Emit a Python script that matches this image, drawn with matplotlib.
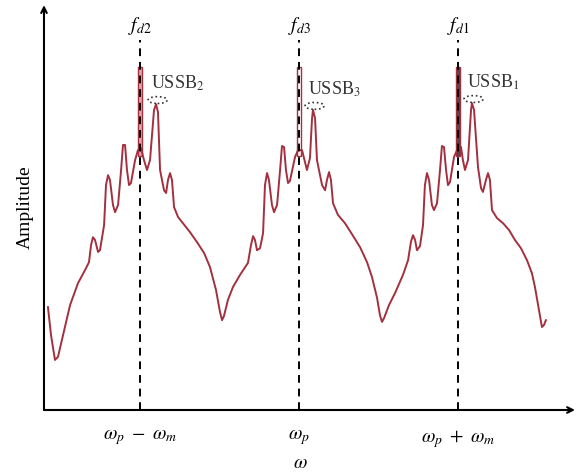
import matplotlib.pyplot as plt
from matplotlib.patches import Ellipse
import numpy as np

plt.rcParams['font.family'] = ['Liberation Serif', 'DejaVu Serif']
plt.rcParams['mathtext.fontset'] = 'stix'

# frequency offset from omega_p, in units of omega_m
omega = [-1.579, -1.560, -1.535, -1.516, -1.484, -1.440, -1.390, -1.346, -1.321,
         -1.308, -1.296, -1.283, -1.264, -1.252, -1.226, -1.214, -1.201, -1.189,
         -1.170, -1.157, -1.138, -1.119, -1.107, -1.094, -1.082, -1.069, -1.057,
         -1.031, -1.013, -0.994, -0.975, -0.956, -0.937, -0.912, -0.899, -0.887,
         -0.874, -0.849, -0.836, -0.824, -0.811, -0.799, -0.786, -0.761, -0.730,
         -0.686, -0.642, -0.597, -0.560, -0.522, -0.497, -0.484, -0.472, -0.447,
         -0.415, -0.371, -0.321, -0.302, -0.289, -0.277, -0.264, -0.245, -0.226,
         -0.214, -0.201, -0.189, -0.170, -0.157, -0.138, -0.119, -0.107, -0.094,
         -0.082, -0.069, -0.057, -0.025, -0.006, 0.019, 0.038, 0.050, 0.069,
         0.082, 0.088, 0.101, 0.113, 0.145, 0.164, 0.176, 0.189, 0.201, 0.214,
         0.245, 0.289, 0.333, 0.384, 0.428, 0.459, 0.491, 0.509, 0.522, 0.535,
         0.566, 0.604, 0.654, 0.686, 0.704, 0.717, 0.730, 0.742, 0.761, 0.780,
         0.792, 0.805, 0.818, 0.836, 0.849, 0.868, 0.887, 0.899, 0.912, 0.925,
         0.937, 0.950, 0.975, 0.994, 1.019, 1.031, 1.044, 1.063, 1.082, 1.088,
         1.101, 1.126, 1.145, 1.157, 1.176, 1.189, 1.201, 1.214, 1.245, 1.283,
         1.321, 1.358, 1.396, 1.434, 1.465, 1.484, 1.509, 1.528, 1.541, 1.553]
amplitude = [0.300, 0.219, 0.146, 0.155, 0.219, 0.306, 0.370, 0.408, 0.431,
             0.481, 0.504, 0.496, 0.461, 0.466, 0.539, 0.656, 0.685, 0.671,
             0.598, 0.577, 0.598, 0.700, 0.773, 0.773, 0.700, 0.656, 0.662,
             0.729, 0.758, 0.764, 0.729, 0.700, 0.729, 0.875, 0.892, 0.869,
             0.700, 0.641, 0.633, 0.671, 0.691, 0.671, 0.592, 0.563, 0.545,
             0.519, 0.490, 0.458, 0.417, 0.350, 0.286, 0.262, 0.274, 0.321,
             0.359, 0.394, 0.429, 0.481, 0.507, 0.496, 0.466, 0.472, 0.516,
             0.656, 0.691, 0.671, 0.598, 0.577, 0.598, 0.700, 0.770, 0.767,
             0.700, 0.662, 0.668, 0.738, 0.758, 0.758, 0.723, 0.700, 0.735,
             0.851, 0.875, 0.851, 0.729, 0.656, 0.641, 0.671, 0.694, 0.671, 0.603,
             0.569, 0.545, 0.513, 0.475, 0.431, 0.388, 0.327, 0.277, 0.257, 0.268,
             0.306, 0.341, 0.394, 0.437, 0.490, 0.510, 0.496, 0.466, 0.478, 0.539,
             0.656, 0.691, 0.671, 0.598, 0.583, 0.603, 0.700, 0.770, 0.767, 0.700,
             0.656, 0.665, 0.738, 0.758, 0.767, 0.729, 0.700, 0.729, 0.875, 0.895,
             0.875, 0.708, 0.647, 0.636, 0.671, 0.691, 0.671, 0.583, 0.560, 0.545,
             0.525, 0.496, 0.472, 0.437, 0.399, 0.359, 0.292, 0.242, 0.248, 0.262]

# drive frequencies (narrow spikes on top of the spectrum)
fd_pos = [-1.0, 0.0, 1.0]
fd_base = [0.74, 0.74, 0.74]
fd_top = [1.0, 1.0, 1.0]
fd_labels = ['$f_{d2}$', '$f_{d3}$', '$f_{d1}$']
fd_fill = ['#eaa6b0', 'white', '#4a4a4a']

# upper side band labels
ussb_labels = ['USSB$_2$', 'USSB$_3$', 'USSB$_1$']
ussb_x = [-0.899, 0.088, 1.088]
ussb_y = [0.892, 0.875, 0.895]

tick_pos = [-1, 0, 1]
tick_labels = [r'$\omega_p\ -\ \omega_m$', r'$\omega_p$', r'$\omega_p\ +\ \omega_m$']

line_col = '#a3303f'

fig = plt.figure(figsize=(5.78, 4.73), dpi=100)
ax = fig.add_axes([0.0761, 0.1332, 0.9187, 0.856])

ax.bar(fd_pos, np.subtract(fd_top, fd_base), bottom=fd_base, width=0.025,
       color=fd_fill, edgecolor=line_col, linewidth=1.0, zorder=2)
ax.plot(omega, amplitude, color=line_col, lw=1.4, zorder=3)

for x, lab in zip(fd_pos, fd_labels):
    ax.plot([x, x], [0, 1.08], color='black', lw=1.4, ls=(0, (4, 3)), zorder=4)
    ax.text(x, 1.12, lab, ha='center', va='center', fontsize=14)

for x, y, lab in zip(ussb_x, ussb_y, ussb_labels):
    ax.text(x - 0.03, y + 0.06, lab, ha='left', va='center', fontsize=13,
            color='#333333')
    ax.add_patch(Ellipse((x + 0.01, y + 0.012), 0.12, 0.02, fill=False,
                         ls=':', lw=1.2, color='#333333', zorder=5))

ax.set_xlim(-1.604, 1.736)
ax.set_ylim(0, 1.181)
ax.set_xticks(tick_pos)
ax.set_xticklabels(tick_labels, fontsize=14)
ax.tick_params(axis='x', length=0, pad=13)
ax.set_yticks([])
ax.set_xlabel(r'$\omega$', fontsize=14, va='center')
ax.xaxis.set_label_coords(0.482, -0.131)
ax.set_ylabel('Amplitude', fontsize=14, va='center')
ax.yaxis.set_label_coords(-0.036, 0.5)

for s in ax.spines.values():
    s.set_visible(False)
ax.annotate('', xy=(1.0, 0), xytext=(0, 0), xycoords='axes fraction',
            arrowprops=dict(arrowstyle='->', lw=1.5, color='black',
                            shrinkA=0, shrinkB=0))
ax.annotate('', xy=(0, 1.0), xytext=(0, 0), xycoords='axes fraction',
            arrowprops=dict(arrowstyle='->', lw=1.5, color='black',
                            shrinkA=0, shrinkB=0))

fig.savefig('out.png', dpi=100)
